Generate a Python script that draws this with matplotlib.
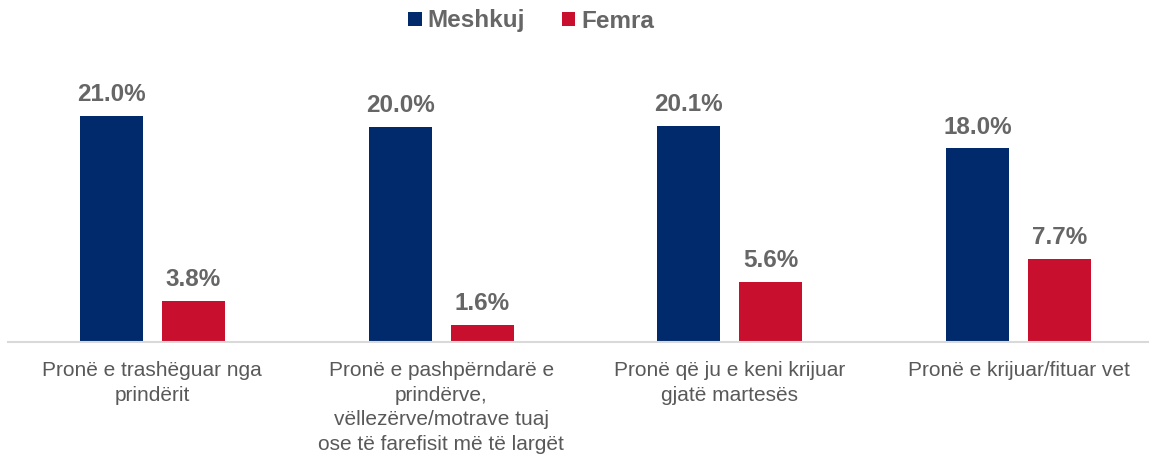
import matplotlib.pyplot as plt
import numpy as np

plt.rcParams['font.family'] = ['Liberation Sans', 'DejaVu Sans']

categories = ['Pronë e trashëguar nga\nprindërit',
              'Pronë e pashpërndarë e\nprindërve,\nvëllezërve/motrave tuaj\nose të farefisit më të largët',
              'Pronë që ju e keni krijuar\ngjatë martesës',
              'Pronë e krijuar/fituar vet']
meshkuj = [21.0, 20.0, 20.1, 18.0]
femra = [3.8, 1.6, 5.6, 7.7]

NAVY = '#002A6C'
RED = '#C8102E'
GRAY = '#666666'

fig = plt.figure(figsize=(11.49, 4.66), dpi=100)
# axes extends slightly past the right edge like the original
ax = fig.add_axes([8 / 1149, 1 - 342 / 466, 1155 / 1149, (342 - 60) / 466])

x = np.arange(len(categories))
w = 0.218
off = 0.142
b1 = ax.bar(x - off, meshkuj, w, color=NAVY, label='Meshkuj')
b2 = ax.bar(x + off, femra, w, color=RED, label='Femra')

for bars, vals in [(b1, meshkuj), (b2, femra)]:
    for b, v in zip(bars, vals):
        ax.annotate(f'{v:.1f}%', (b.get_x() + b.get_width() / 2, v),
                    xytext=(0, 7), textcoords='offset points',
                    ha='center', va='bottom', fontsize=17.5, fontweight='bold', color=GRAY)

ax.set_xlim(-0.5, 3.5)
ax.set_ylim(0, 26.2)
ax.set_yticks([])
ax.set_xticks([])
# category labels drawn as text so the line spacing can be set
for xi, lab in zip(x, categories):
    ax.annotate(lab, (xi, 0), xycoords=('data', 'axes fraction'),
                xytext=(0, -14), textcoords='offset points',
                ha='center', va='top', fontsize=15, color='#595959',
                linespacing=1.36, annotation_clip=False)
for s in ['top', 'right', 'left']:
    ax.spines[s].set_visible(False)
ax.spines['bottom'].set_color('#D9D9D9')
ax.spines['bottom'].set_linewidth(1.5)

leg = fig.legend(handles=[b1, b2], labels=['Meshkuj', 'Femra'], loc='center',
                 bbox_to_anchor=(531 / 1149, 1 - 21 / 466), ncol=2, frameon=False,
                 handlelength=0.55, handleheight=0.55, handletextpad=0.25, columnspacing=1.5,
                 prop={'size': 17.5, 'weight': 'bold'})
for t in leg.get_texts():
    t.set_color(GRAY)

plt.savefig('out.png', dpi=100)
